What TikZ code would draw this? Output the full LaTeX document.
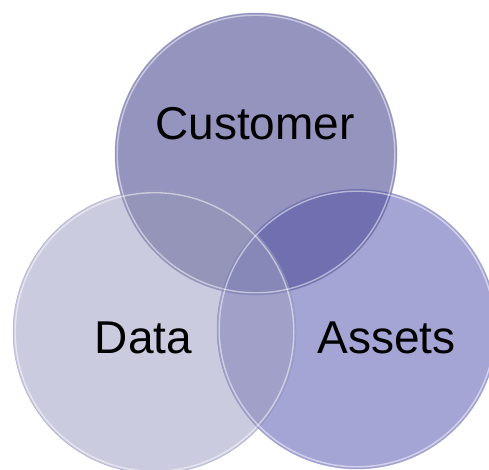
\documentclass[tikz,border=0pt]{standalone}
\usepackage{fontspec}
\setmainfont{Liberation Sans}
\definecolor{custFill}{HTML}{9494BF}
\definecolor{dataFill}{HTML}{CBCBDF}
\definecolor{assetFill}{HTML}{A5A5D5}
\definecolor{caFill}{HTML}{7070B0}
\definecolor{cdFill}{HTML}{9595BA}
\definecolor{daFill}{HTML}{A0A0C9}
\definecolor{cdaFill}{HTML}{8787B8}
\definecolor{rimDark}{HTML}{8C8CBC}
\tikzset{
  rimline/.style={draw=rimDark, draw opacity=0.6, line width=0.5pt},
  rimglow/.style={draw=white, draw opacity=0.5, line width=1.4pt},
  label/.style={anchor=base, font=\fontsize{46}{50}\selectfont, text=black, inner sep=0pt}
}
\begin{document}
\begin{tikzpicture}[x=1pt,y=-1pt]
  \useasboundingbox (0,0) rectangle (489,470);
  \clip (0,0) rectangle (489,470);
  \coordinate (cc) at (256,154);
  \coordinate (dc) at (154.5,332);
  \coordinate (ac) at (357,329);
  \def\rc{141}\def\rd{141.5}\def\ra{140}
  % single circles
  \fill[custFill] (cc) circle (\rc);
  \fill[dataFill] (dc) circle (\rd);
  \fill[assetFill] (ac) circle (\ra);
  % pairwise overlaps
  \begin{scope}
    \clip (cc) circle (\rc);
    \fill[caFill] (ac) circle (\ra);
    \fill[cdFill] (dc) circle (\rd);
  \end{scope}
  \begin{scope}
    \clip (dc) circle (\rd);
    \fill[daFill] (ac) circle (\ra);
  \end{scope}
  % triple overlap
  \begin{scope}
    \clip (cc) circle (\rc);
    \clip (dc) circle (\rd);
    \fill[cdaFill] (ac) circle (\ra);
  \end{scope}
  % rims
  \foreach \p/\r in {cc/\rc, dc/\rd, ac/\ra}{
    \draw[rimline] (\p) circle (\r);
    \draw[rimglow] (\p) circle (\r-2.2);
  }
  % labels
  \node[label] (customer) at (255,140) {Customer};
  \node[label] (data) at (143.5,353) {Data};
  \node[label] (assets) at (386.5,353) {Assets};
\end{tikzpicture}
\end{document}
